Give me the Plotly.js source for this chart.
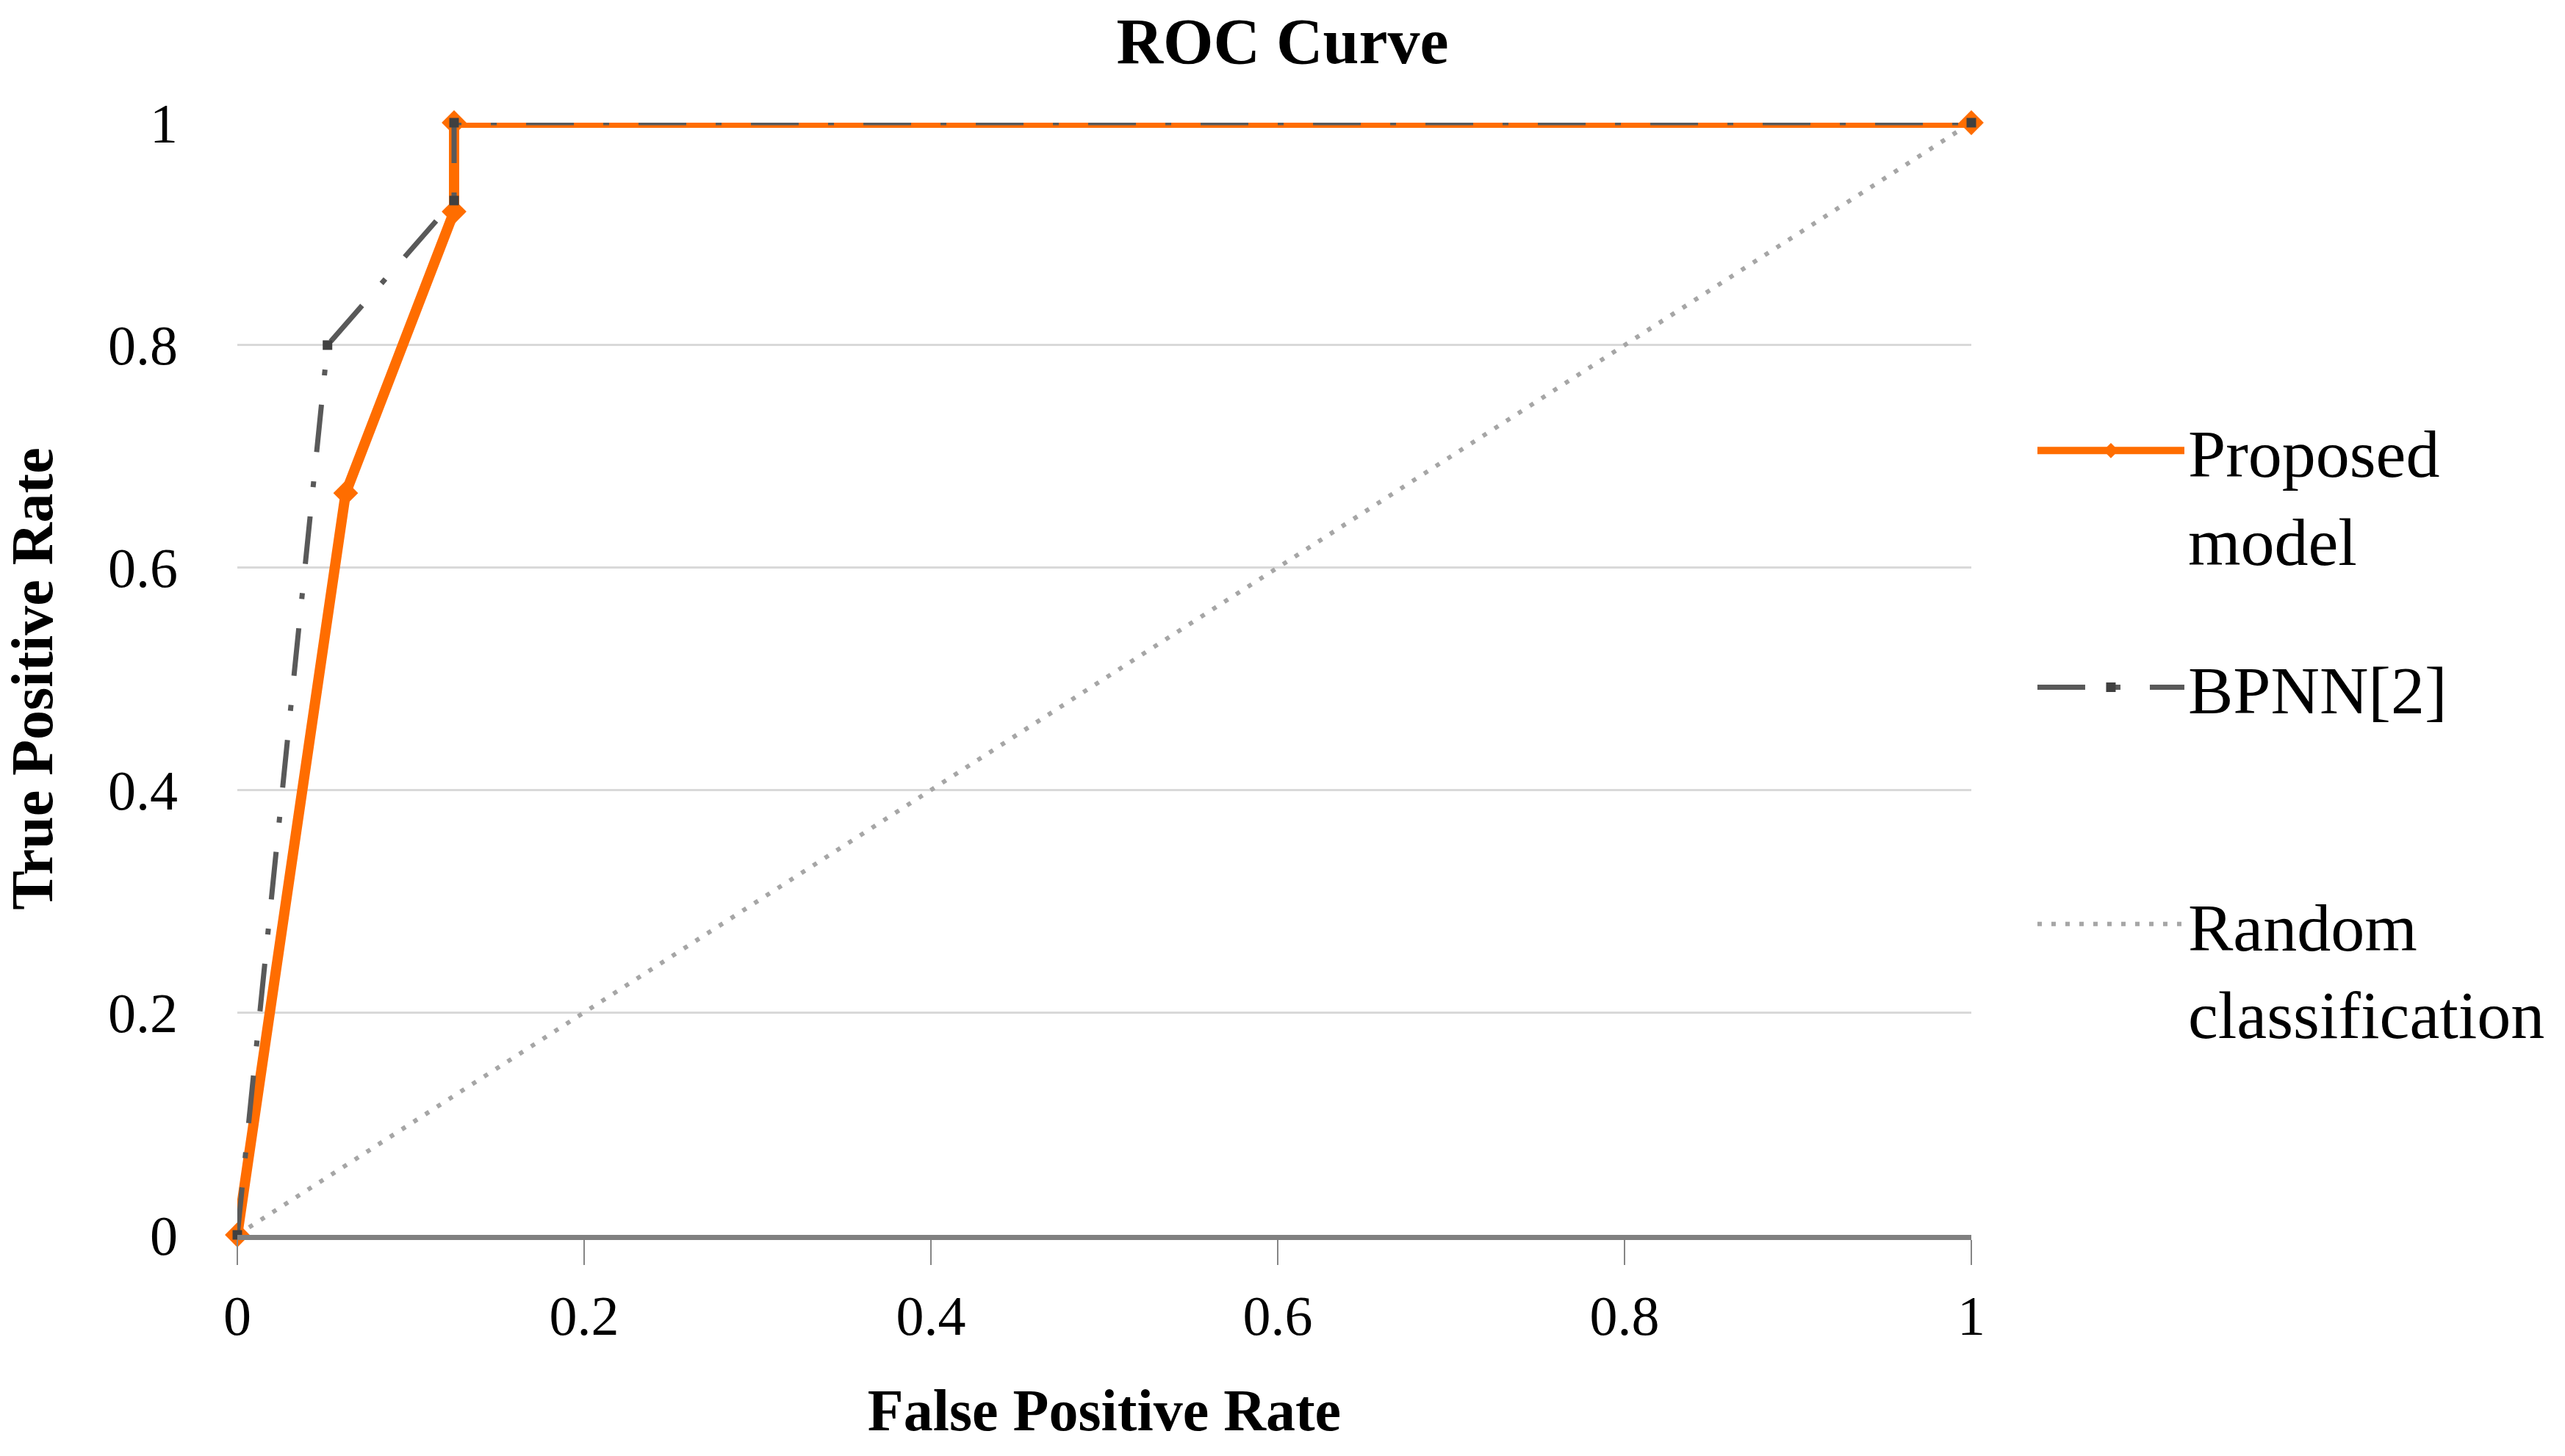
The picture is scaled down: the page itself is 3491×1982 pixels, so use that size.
<!DOCTYPE html>
<html>
<head>
<meta charset="utf-8">
<script src="https://cdn.plot.ly/plotly-3.0.1.min.js"></script>
<style>html,body{margin:0;padding:0;background:#fff;}#chart{width:3491px;height:1982px;}</style>
</head>
<body>
<div id="chart"></div>
<script>
// Data
const proposedFPR = [0, 0.0625, 0.125, 0.125, 1];
const proposedTPR = [0, 0.667, 0.92, 1, 1];
const bpnnFPR = [0, 0.052, 0.125, 0.125, 1];
const bpnnTPR = [0, 0.8, 0.93, 1, 1];
const randomFPR = [0, 1];
const randomTPR = [0, 1];
const tickVals = [0, 0.2, 0.4, 0.6, 0.8, 1];
const tickText = ["0", "0.2", "0.4", "0.6", "0.8", "1"];
const seriesNames = ["Proposed<br>model", "BPNN[2]<br> ", "Random<br>classification"];

const FONT = "Liberation Serif";

const traces = [
  {
    x: randomFPR, y: randomTPR, name: seriesNames[2], type: "scatter", mode: "lines",
    line: {color: "#A6A6A6", width: 6, dash: "6px,13px"},
    legendgroup: "c", legendrank: 3, cliponaxis: false, hoverinfo: "skip"
  },
  {
    x: proposedFPR, y: proposedTPR, name: seriesNames[0], type: "scatter", mode: "lines+markers",
    line: {color: "#FF6D00", width: 14},
    marker: {symbol: "diamond", size: 26, color: "#FF6D00"},
    legendgroup: "a", legendrank: 1, cliponaxis: false
  },
  {
    x: bpnnFPR, y: bpnnTPR, name: seriesNames[1], type: "scatter", mode: "lines+markers",
    line: {color: "#595959", width: 7, dash: "65px,40px,8px,40px"},
    marker: {symbol: "square", size: 13, color: "#404040"},
    legendgroup: "b", legendrank: 2, cliponaxis: false
  }
];

const layout = {
  width: 3491, height: 1982,
  paper_bgcolor: "#ffffff", plot_bgcolor: "#ffffff",
  margin: {l: 323, r: 808, t: 167, b: 301, pad: 0},
  font: {family: FONT, color: "#000000", size: 76},
  title: {
    text: "<b>ROC Curve</b>", font: {family: FONT, size: 88, color: "#000"},
    x: 0.5, xref: "container", xanchor: "center", y: 0.972, yref: "container", yanchor: "middle"
  },
  xaxis: {
    range: [0, 1], tickvals: tickVals, ticktext: tickText,
    showgrid: false, zeroline: false,
    showline: true, linecolor: "#808080", linewidth: 7,
    ticks: "outside", ticklen: 34, tickwidth: 2, tickcolor: "#868686",
    ticklabelstandoff: 4,
    tickfont: {family: FONT, size: 76, color: "#000"},
    title: {text: "<b>False Positive Rate</b>", font: {family: FONT, size: 80, color: "#000"}, standoff: 61},
    automargin: false, fixedrange: true
  },
  yaxis: {
    range: [0, 1], tickvals: tickVals, ticktext: tickText,
    showgrid: true, gridcolor: "#D9D9D9", gridwidth: 3,
    zeroline: false, showline: false, ticks: "",
    ticklabelstandoff: 80,
    tickfont: {family: FONT, size: 76, color: "#000"},
    title: {text: "<b>True Positive Rate</b>", font: {family: FONT, size: 80, color: "#000"}, standoff: 60},
    automargin: false, fixedrange: true
  },
  showlegend: true,
  legend: {
    x: 1.036, xanchor: "left", y: 0.749, yanchor: "top",
    traceorder: "grouped", tracegroupgap: 80, valign: "top",
    font: {family: FONT, size: 92, color: "#000"},
    bgcolor: "rgba(0,0,0,0)", borderwidth: 0, itemwidth: 200
  }
};

Plotly.newPlot("chart", traces, layout, {staticPlot: true, displayModeBar: false});
</script>
</body>
</html>
